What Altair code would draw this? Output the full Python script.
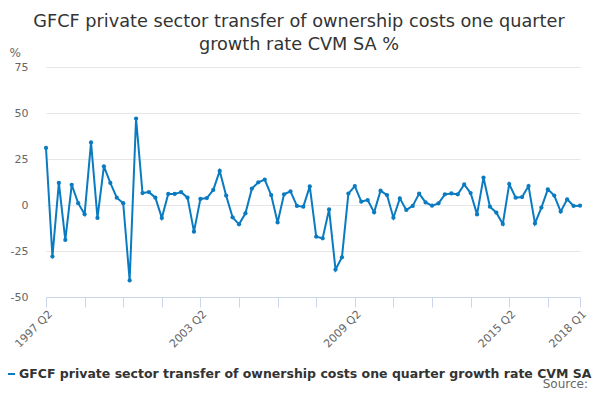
import pandas as pd
import altair as alt

series_name = "GFCF private sector transfer of ownership costs one quarter growth rate CVM SA %"

# quarters 1997 Q2 .. 2018 Q1
quarters = [f"{y} Q{q}" for y in range(1997, 2019) for q in range(1, 5)]
quarters = quarters[quarters.index("1997 Q2"):quarters.index("2018 Q1") + 1]

growth = [
    31, -28, 12, -19, 11, 1, -5, 34, -7, 21, 12, 4, 1, -41, 47, 6.5,
    7, 4, -7, 6, 6, 7, 4, -14.5, 3.3, 3.8, 8.2, 18.5, 5.1, -6.7, -10.5, -4.5,
    8.9, 12.3, 13.8, 5.4, -9.5, 5.8, 7.4, -0.5, -0.9, 10.1, -17.2, -18.1, -2.4, -35.1,
    -28.4, 6.2, 10.3, 1.8, 2.7, -4, 7.8, 5.4, -6.9, 3.6, -2.7, -0.5, 6.2, 1.4,
    -0.4, 0.9, 5.8, 6.3, 5.8, 11.2, 6.5, -5.1, 14.9, -0.9, -4.2, -10.3, 11.4, 4,
    4.3, 10.3, -10, -1.4, 8.5, 5.1, -3.6, 3.1, -0.5, -0.4,
]

tick_quarters = quarters[::6] + ["2018 Q1"]
label_quarters = ["1997 Q2", "2003 Q2", "2009 Q2", "2015 Q2", "2018 Q1"]
y_ticks = [-50, -25, 0, 25, 50, 75]

df = pd.DataFrame({"quarter": quarters, "value": growth, "series": series_name})
src = pd.DataFrame({"text": ["Source:"]})

blue = "#0b7bc1"
font = "DejaVu Sans"

label_list = ",".join(f"'{q}'" for q in label_quarters)

line = alt.Chart(df).mark_line(
    strokeWidth=2,
    point=alt.OverlayMarkDef(filled=True, size=18),
).encode(
    x=alt.X("quarter:O", sort=quarters, title=None,
            scale=alt.Scale(type="point", padding=0),
            axis=alt.Axis(values=tick_quarters,
                          labelExpr=f"indexof([{label_list}], datum.value) >= 0 ? datum.value : ''",
                          labelAngle=-45, labelAlign="right", labelBaseline="top",
                          labelPadding=1, tickSize=10, tickColor="#ccd6eb",
                          domainColor="#ccd6eb", grid=False)),
    y=alt.Y("value:Q", scale=alt.Scale(domain=[-50, 75], nice=False),
            axis=alt.Axis(values=y_ticks, labelExpr="'' + datum.value",
                          title="%", titleAngle=0, titleX=-37, titleY=-15,
                          titleAlign="left", titleBaseline="middle", titleFontWeight="normal",
                          titleColor="#666666", titleFontSize=12, domain=False, ticks=False,
                          labelPadding=18, gridColor="#e6e6e6")),
    color=alt.Color("series:N", scale=alt.Scale(range=[blue]),
                    legend=alt.Legend(title=None, orient="none", legendX=-44, legendY=300,
                                      symbolType="stroke", symbolSize=144, symbolStrokeWidth=2,
                                      labelOffset=3, labelFontSize=12.5, labelFontWeight="bold",
                                      labelColor="#333333", labelLimit=1000, labelFont=font)),
)

source = alt.Chart(src).mark_text(
    align="right", baseline="alphabetic", fontSize=12, color="#666666", font=font
).encode(x=alt.value(542), y=alt.value(321), text="text:N")

chart = alt.layer(line, source).properties(
    width=534,
    height=230,
    autosize="none",
    padding={"left": 38, "top": 59, "right": 12, "bottom": 95},
    title=alt.TitleParams(
        text=["GFCF private sector transfer of ownership costs one quarter",
              "growth rate CVM SA %"],
        fontSize=17.7, font=font, fontWeight="normal", color="#333333",
        anchor="middle", dx=-14, dy=22, offset=14, lineHeight=23,
    ),
).configure_view(stroke=None).configure_axis(
    labelFont=font, labelFontSize=11, labelColor="#666666", titleFont=font
)

chart.save("out.html", embed_options={"renderer": "svg", "actions": False})
